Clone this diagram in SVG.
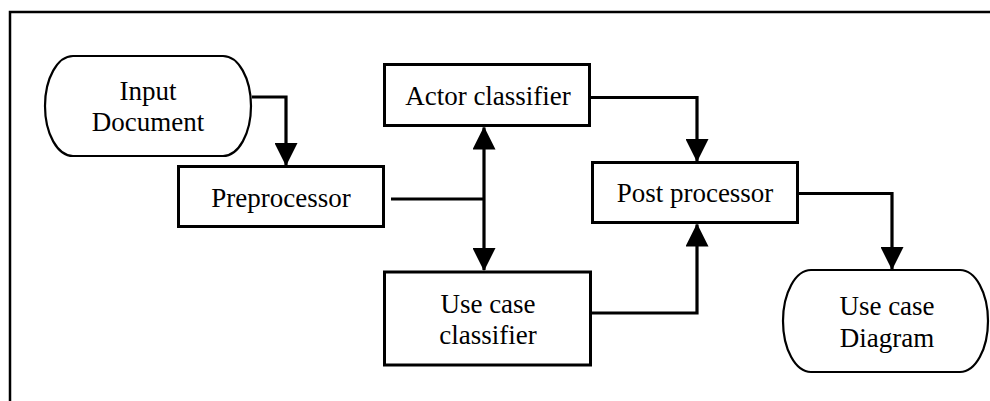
<svg xmlns="http://www.w3.org/2000/svg" width="990" height="401" viewBox="0 0 990 401">
<style>
.box{fill:#fff;stroke:#000;stroke-width:3}
.term{fill:#fff;stroke:#000;stroke-width:2.2}
.lbl{font-family:"Liberation Serif","Times New Roman",serif;font-size:27px;fill:#000;text-anchor:middle}
.conn{fill:none;stroke:#000;stroke-width:3.2}
</style>
<defs>
<marker id="ah" viewBox="0 0 23 23" refX="22" refY="11.5" markerWidth="23" markerHeight="23" markerUnits="userSpaceOnUse" orient="auto-start-reverse">
<path d="M0,0 L23,11.5 L0,23 Z" fill="#000"/>
</marker>
</defs>
<rect width="990" height="401" fill="#fff"/>
<path d="M10,401 V12 H990" fill="none" stroke="#000" stroke-width="2.5"/>
<g id="connectors">
<path class="conn" d="M252,97 H286 V165" marker-end="url(#ah)"/>
<path class="conn" d="M391,199 H484"/>
<path class="conn" d="M484,127.5 V270" marker-start="url(#ah)" marker-end="url(#ah)"/>
<path class="conn" d="M591,97.5 H697 V161" marker-end="url(#ah)"/>
<path class="conn" d="M592,313 H697 V224.5" marker-end="url(#ah)"/>
<path class="conn" d="M799,193.5 H892 V269" marker-end="url(#ah)"/>
</g>
<g id="input-document">
<rect class="term" x="45" y="56" width="206" height="100" rx="28" ry="50"/>
<text class="lbl" x="148" y="100">Input</text>
<text class="lbl" x="148" y="131">Document</text>
</g>
<g id="preprocessor">
<rect class="box" x="178.5" y="166.5" width="205" height="60"/>
<text class="lbl" x="281" y="207">Preprocessor</text>
</g>
<g id="actor-classifier">
<rect class="box" x="384.5" y="64.5" width="205" height="61"/>
<text class="lbl" x="488" y="105">Actor classifier</text>
</g>
<g id="use-case-classifier">
<rect class="box" x="384.5" y="272" width="206" height="93"/>
<text class="lbl" x="488" y="313">Use case</text>
<text class="lbl" x="488" y="344">classifier</text>
</g>
<g id="post-processor">
<rect class="box" x="592.5" y="162.5" width="205" height="60"/>
<text class="lbl" x="695" y="202">Post processor</text>
</g>
<g id="use-case-diagram">
<rect class="term" x="783" y="270" width="205" height="102" rx="28" ry="51"/>
<text class="lbl" x="887" y="315">Use case</text>
<text class="lbl" x="887" y="347">Diagram</text>
</g>
</svg>
